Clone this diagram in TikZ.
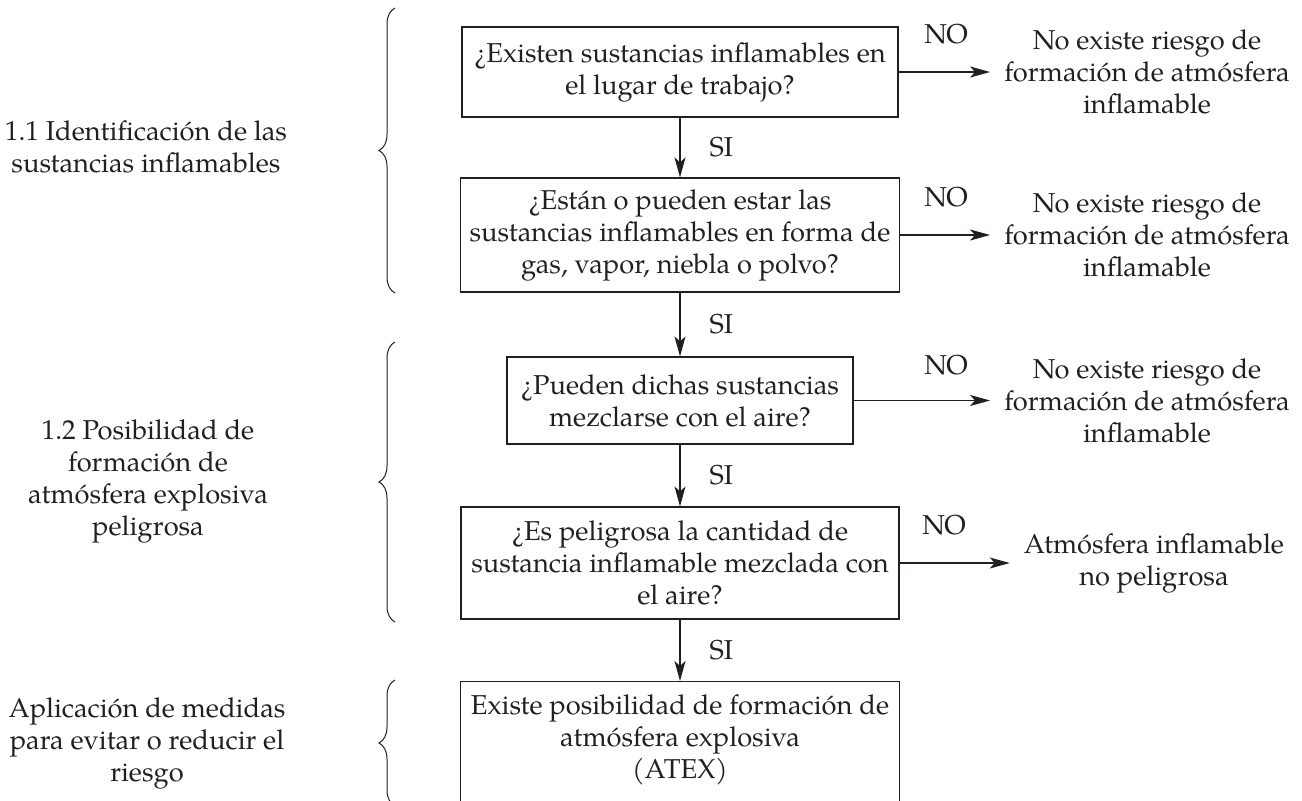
\documentclass[tikz,border=0pt]{standalone}
\usepackage{fontspec}
\setmainfont{TeX Gyre Pagella}
\usetikzlibrary{arrows.meta,decorations.pathreplacing}
\definecolor{ink}{RGB}{35,31,32}
\begin{document}
\begin{tikzpicture}[x=1pt,y=-1pt,
  every node/.style={text=ink, font=\fontsize{27.3}{32}\selectfont},
  qbox/.style={draw=ink, line width=1.1pt, align=center, inner xsep=4pt, inner ysep=0pt},
  outtext/.style={align=center, inner sep=0pt},
  sidelabel/.style={align=center, inner sep=0pt},
  answer/.style={inner sep=0pt},
  flow/.style={draw=ink, line width=1.1pt, -{Stealth[length=20pt,width=11pt,inset=5pt]}},
  bracket/.style={draw=ink, line width=1pt, decorate, decoration={brace, amplitude=16pt}},
]
\useasboundingbox (0,0) rectangle (1302,801);
\clip (0,0) rectangle (1302,801);

% question boxes
\node[qbox, minimum width=436pt, minimum height=90pt] (b1) at (680,72)
  {¿Existen sustancias inflamables en\\el lugar de trabajo?};
\node[qbox, minimum width=439pt, minimum height=114pt] (b2) at (680,235)
  {¿Están o pueden estar las\\sustancias inflamables en forma de\\gas, vapor, niebla o polvo?};
\node[qbox, minimum width=346pt, minimum height=87pt] (b3) at (680,400.5)
  {¿Pueden dichas sustancias\\mezclarse con el aire?};
\node[qbox, minimum width=438pt, minimum height=112pt] (b4) at (680,563)
  {¿Es peligrosa la cantidad de\\sustancia inflamable mezclada con\\el aire?};
\node[qbox, minimum width=439pt, anchor=north, inner ysep=13pt, text depth=90pt] (b5) at (680,681)
  {Existe posibilidad de formación de\\atmósfera explosiva\\(ATEX)};

% outcome texts
\node[outtext] (r1) at (1147,72) {No existe riesgo de\\formación de atmósfera\\inflamable};
\node[outtext] (r2) at (1147,235) {No existe riesgo de\\formación de atmósfera\\inflamable};
\node[outtext] (r3) at (1147,400.5) {No existe riesgo de\\formación de atmósfera\\inflamable};
\node[outtext] (r4) at (1154,563) {Atmósfera inflamable\\no peligrosa};

% NO labels
\node[answer] (n1) at (946,34.5) {NO};
\node[answer] (n2) at (946,197.5) {NO};
\node[answer] (n3) at (946,365.5) {NO};
\node[answer] (n4) at (944,525.5) {NO};

% flow arrows (SI)
\draw[flow] (b1) -- node[answer, anchor=west, xshift=29pt] (s1) {SI} (b2);
\draw[flow] (b2) -- node[answer, anchor=west, xshift=29pt] (s2) {SI} (b3);
\draw[flow] (b3) -- node[answer, anchor=west, xshift=29pt] (s3) {SI} (b4);
\draw[flow] (b4) -- node[answer, anchor=west, xshift=29pt] (s4) {SI} (b5);

% NO arrows
\draw[flow, shorten >=14pt] (b1.east) -- (b1.east -| r1.west);
\draw[flow, shorten >=14pt] (b2.east) -- (b2.east -| r2.west);
\draw[flow, shorten >=14pt] (b3.east) -- (b3.east -| r3.west);
\draw[flow, shorten >=14pt] (b4.east) -- (b4.east -| r4.west);

% side labels
\node[sidelabel] (l1) at (146,147) {1.1 Identificación de las\\sustancias inflamables};
\node[sidelabel] (l2) at (148,481) {1.2 Posibilidad de\\formación de\\atmósfera explosiva\\peligrosa};
\node[sidelabel] (l3) at (147,743) {Aplicación de medidas\\para evitar o reducir el\\riesgo};

% braces
\draw[bracket] (395,293) -- (395,8);
\draw[bracket] (395,622) -- (395,342);
\draw[bracket] (395,806) -- (395,680);
\end{tikzpicture}
\end{document}
